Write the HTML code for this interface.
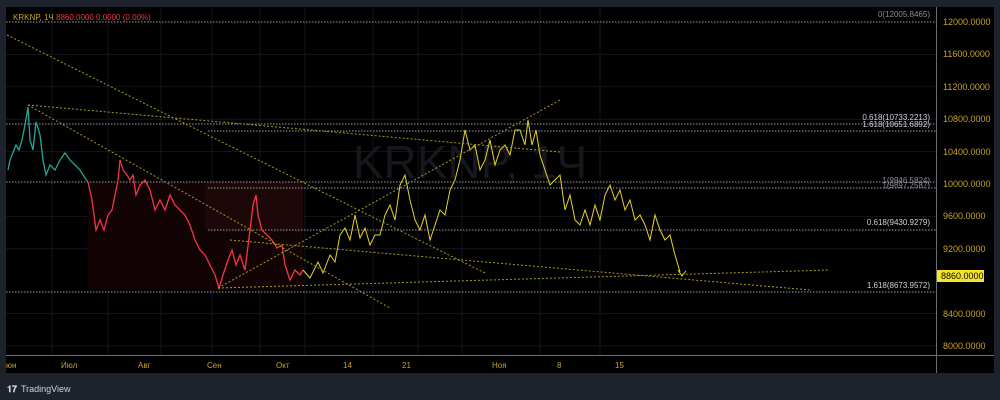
<!DOCTYPE html>
<html><head><meta charset="utf-8"><style>
body{margin:0;width:1000px;height:400px;background:#1e222d;overflow:hidden;font-family:"Liberation Sans",sans-serif}
svg{position:absolute;left:0;top:0}
</style></head><body>
<svg width="1000" height="400" xmlns="http://www.w3.org/2000/svg">
<rect x="0" y="0" width="1000" height="400" fill="#1e222d"/>
<rect x="6" y="7" width="988" height="366" fill="#000"/>
<g stroke="#14161c" stroke-width="1">
<line x1="6" x2="936" y1="54.4" y2="54.4"/><line x1="6" x2="936" y1="86.8" y2="86.8"/><line x1="6" x2="936" y1="119.2" y2="119.2"/><line x1="6" x2="936" y1="151.6" y2="151.6"/><line x1="6" x2="936" y1="216.4" y2="216.4"/><line x1="6" x2="936" y1="248.8" y2="248.8"/><line x1="6" x2="936" y1="313.6" y2="313.6"/><line x1="6" x2="936" y1="346" y2="346"/>
<line x1="52" x2="52" y1="7" y2="355"/><line x1="108" x2="108" y1="7" y2="355"/><line x1="161" x2="161" y1="7" y2="355"/><line x1="212" x2="212" y1="7" y2="355"/><line x1="260" x2="260" y1="7" y2="355"/><line x1="305" x2="305" y1="7" y2="355"/><line x1="373" x2="373" y1="7" y2="355"/><line x1="418" x2="418" y1="7" y2="355"/><line x1="462" x2="462" y1="7" y2="355"/><line x1="540" x2="540" y1="7" y2="355"/><line x1="600" x2="600" y1="7" y2="355"/>
</g>
<text x="470" y="178" font-size="46" fill="#17181d" text-anchor="middle" font-family="Liberation Sans,sans-serif">KRKNP, 1Ч</text>
<rect x="88" y="182" width="215" height="108" fill="#120405"/>
<rect x="205" y="182" width="98" height="48" fill="#1d0709"/>
<g stroke="#9a9ca3" stroke-width="1" stroke-dasharray="1.5,1.5" fill="none">
<line x1="6" x2="936" y1="22" y2="22"/>
<line x1="6" x2="936" y1="124" y2="124"/>
<line x1="208" x2="936" y1="131" y2="131"/>
<line x1="6" x2="936" y1="182" y2="182"/>
<line x1="208" x2="936" y1="188" y2="188"/>
<line x1="208" x2="936" y1="230" y2="230"/>
<line x1="6" x2="936" y1="292" y2="292"/>
</g>
<polyline fill="none" stroke="#26a69a" stroke-width="1.3" points="8,170 10,160 12,155 16,145 19,150 22,140 25,125 28,107 30,140 33,150 36,122 38,128 40,135 43,160 46,175 50,165 55,170 60,160 65,153 70,160 75,165 80,170 85,178 88,182"/>
<polyline fill="none" stroke="#f23645" stroke-width="1.3" points="88,182 92,200 96,230 100,220 104,230 108,215 112,210 115,195 118,180 120,160 123,170 127,175 130,180 133,175 136,195 140,185 145,180 150,190 155,210 160,200 165,210 170,195 175,205 180,210 185,215 190,225 195,240 200,250 205,255 210,265 215,275 219,288 223,275 228,260 232,250 236,265 240,255 245,270 250,230 253,205 256,195 258,215 262,230 267,235 272,240 277,248 282,245 285,265 290,280 295,270 300,275 303,270"/>
<polyline fill="none" stroke="#e6d32a" stroke-width="1" points="303,270 310,278 318,262 323,273 330,255 335,262 340,235 345,228 350,240 355,215 360,238 365,228 370,245 375,235 380,235 385,215 390,205 395,220 400,185 405,175 410,200 415,220 420,230 425,215 430,240 435,225 440,210 445,215 450,190 455,180 460,160 465,130 470,150 475,145 480,170 485,160 490,140 495,165 500,150 505,145 510,155 515,130 520,130 525,145 528,120 532,145 536,130 540,155 545,170 550,185 555,180 560,175 565,210 570,195 575,220 580,225 585,210 590,225 595,205 600,220 605,195 610,185 615,200 620,190 625,210 630,200 635,220 640,215 645,225 650,240 655,215 660,230 665,240 670,235 675,255 680,272"/>
<polyline fill="none" stroke="#e6d32a" stroke-width="1" points="678,270 682,276 686,271"/>
<g stroke="#a89a20" stroke-width="1" stroke-dasharray="2,2" fill="none">
<line x1="7" y1="35" x2="485" y2="273"/>
<line x1="28" y1="105" x2="390" y2="308"/>
<line x1="28" y1="105" x2="560" y2="152"/>
<line x1="230" y1="240" x2="810" y2="290"/>
<line x1="218" y1="288" x2="830" y2="270"/>
<line x1="218" y1="288" x2="560" y2="100"/>
</g>
<line x1="6" x2="994" y1="355.5" y2="355.5" stroke="#6a6d75"/>
<line x1="936.5" x2="936.5" y1="7" y2="373" stroke="#6a6d75"/>
<g font-size="8" fill="#d1d4dc" text-anchor="end">
<text x="930" y="17" fill="#8a8d95">0(12005.8465)</text>
<text x="930" y="120">0.618(10733.2213)</text>
<text x="930" y="127">1.618(10651.6892)</text>
<text x="930" y="183" fill="#8a8d95">1(9946.5824)</text>
<text x="930" y="188" fill="#8a8d95">1(9897.2587)</text>
<text x="930" y="225">0.618(9430.9279)</text>
<text x="930" y="288">1.618(8673.9572)</text>
</g>
<g font-size="9" fill="#c9a227">
<text x="943" y="25">12000.0000</text><text x="943" y="57">11600.0000</text><text x="943" y="90">11200.0000</text><text x="943" y="122">10800.0000</text><text x="943" y="155">10400.0000</text><text x="943" y="187">10000.0000</text><text x="943" y="219">9600.0000</text><text x="943" y="252">9200.0000</text><text x="943" y="317">8400.0000</text><text x="943" y="349">8000.0000</text>
</g>
<rect x="937" y="270" width="47" height="12" fill="#f5e625"/>
<text x="941" y="279" font-size="9" fill="#000">8860.0000</text>
<g font-size="8" fill="#c9a227">
<text x="6" y="368">юн</text><text x="61" y="368">Июл</text><text x="138" y="368">Авг</text><text x="207" y="368">Сен</text><text x="276" y="368">Окт</text><text x="343" y="368">14</text><text x="402" y="368">21</text><text x="492" y="368">Ноя</text><text x="557" y="368">8</text><text x="615" y="368">15</text>
</g>
<text x="13" y="20" font-size="8" fill="#c9a227">KRKNP, 1Ч</text>
<text x="56" y="20" font-size="8" fill="#f23645">8860.0000  0.0000 (0.00%)</text>
<text x="7" y="392" font-size="9" font-weight="bold" fill="#d1d4dc">𝟏𝟕</text>
<text x="21" y="392" font-size="9" fill="#d1d4dc">TradingView</text>
</svg>
</body></html>
